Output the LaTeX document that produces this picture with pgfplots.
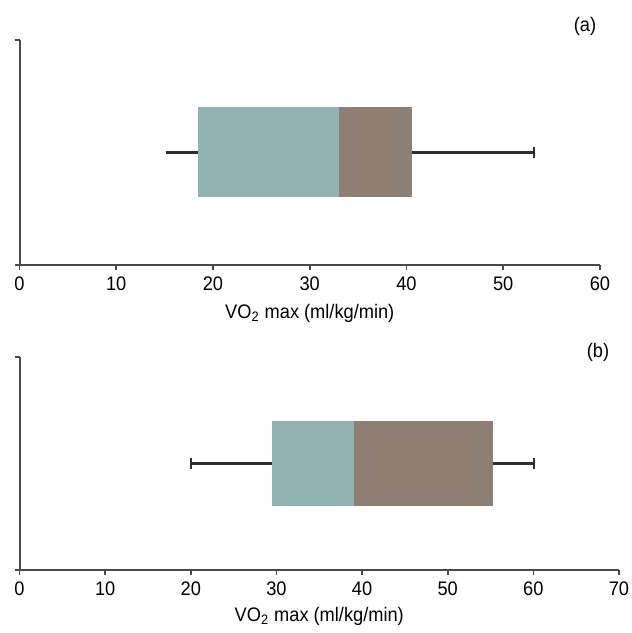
\documentclass[border=0pt]{standalone}
\usepackage{fontspec}
\setmainfont[FakeStretch=0.93]{Liberation Sans}
\usepackage{pgfplots}
\pgfplotsset{compat=1.18}
\definecolor{boxlow}{HTML}{92B3B2}
\definecolor{boxhigh}{HTML}{8E7F74}
\definecolor{axgray}{HTML}{4A4A4A}
\definecolor{whisk}{HTML}{2E2E2E}

\pgfplotsset{
  vostyle/.style={
    scale only axis,
    anchor=south west,
    axis lines*=left,
    axis line style={axgray, line width=1pt},
    xmin=0, ymin=0, ymax=1,
    xtick distance=10,
    ytick={0,1}, yticklabels={},
    tick align=outside,
    major tick length=2.5pt,
    tick style={axgray, line width=0.8pt},
    /pgf/number format/assume math mode=true,
    tick label style={font=\fontsize{9.8}{11}\selectfont},
    label style={font=\fontsize{9.8}{11}\selectfont},
    xlabel={VO\textsubscript{2} max (ml/kg/min)},
    clip=false,
  },
  lowbox/.style={fill=boxlow, draw=none},
  highbox/.style={fill=boxhigh, draw=none},
  wline/.style={whisk, line width=1.1pt},
}

\begin{document}
\begin{tikzpicture}
\useasboundingbox (0,0) rectangle (316pt,316.5pt);

% (a)
\begin{axis}[vostyle, at={(9.75pt,184pt)}, width=290.25pt, height=112.5pt, xmax=60]
\addplot[lowbox] coordinates {(18.5,0.3) (33.0,0.3) (33.0,0.7) (18.5,0.7)};
\addplot[highbox] coordinates {(33.0,0.3) (40.6,0.3) (40.6,0.7) (33.0,0.7)};
\addplot[wline] coordinates {(15.1,0.5) (18.5,0.5)};
\addplot[wline] coordinates {(40.6,0.5) (53.2,0.5)};
\addplot[wline] coordinates {(53.2,0.475) (53.2,0.525)};
\end{axis}
\node[font=\fontsize{9.8}{11}\selectfont] at (292.5pt,303.5pt) {(a)};

% (b)
\begin{axis}[vostyle, at={(9.75pt,31.5pt)}, width=299.75pt, height=106.5pt, xmax=70,
  xlabel style={yshift=1.2pt}]
\addplot[lowbox] coordinates {(29.5,0.3) (39.0,0.3) (39.0,0.7) (29.5,0.7)};
\addplot[highbox] coordinates {(39.0,0.3) (55.3,0.3) (55.3,0.7) (39.0,0.7)};
\addplot[wline] coordinates {(20.0,0.5) (29.5,0.5)};
\addplot[wline] coordinates {(55.3,0.5) (60.1,0.5)};
\addplot[wline] coordinates {(20.0,0.475) (20.0,0.525)};
\addplot[wline] coordinates {(60.1,0.475) (60.1,0.525)};
\end{axis}
\node[font=\fontsize{9.8}{11}\selectfont] at (299pt,140.5pt) {(b)};
\end{tikzpicture}
\end{document}
